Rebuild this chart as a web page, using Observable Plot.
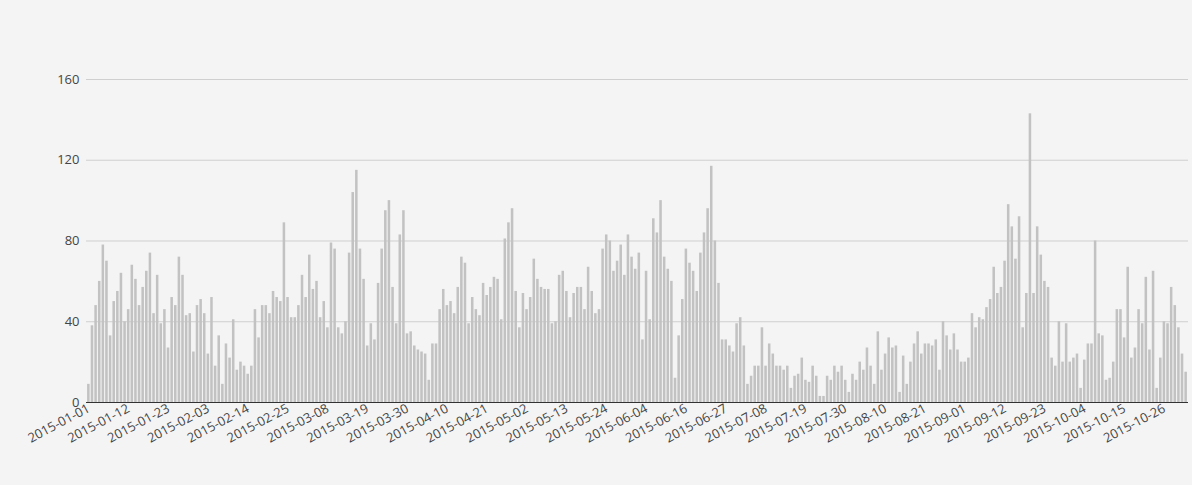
<!DOCTYPE html>
<html><head><meta charset="utf-8">
<script src="https://cdn.jsdelivr.net/npm/d3@7"></script>
<script src="https://cdn.jsdelivr.net/npm/@observablehq/plot@0.6"></script>
<style>
html,body{margin:0;padding:0;background:#f4f4f4;}
</style></head><body><div id="chart"></div>
<script>
const startDate = "2015-01-01";
const endDate = "2015-11-01";
const missingDate = "2015-06-10";
const values = [
  9,38,48,60,78,70,33,50,55,64,40,46,68,61,48,57,65,74,44,63,39,46,27,52,48,72,63,43,
  44,25,48,51,44,24,52,18,33,9,29,22,41,16,20,18,14,18,46,32,48,48,44,55,52,50,89,
  52,42,42,48,63,52,73,56,60,42,50,37,79,76,37,34,40,74,104,115,76,61,28,39,31,59,76,95,
  100,57,39,83,95,34,35,28,26,25,24,11,29,29,46,56,48,50,44,57,72,69,39,52,46,43,59,
  53,57,62,61,41,81,89,96,55,37,54,46,52,71,61,57,56,56,39,40,63,65,55,42,54,57,57,
  46,67,55,44,46,76,83,80,65,70,78,63,83,72,66,74,31,65,41,91,84,100,72,66,60,12,33,51,
  76,69,65,55,74,84,96,117,80,59,31,31,28,25,39,42,28,9,13,18,18,37,18,29,24,18,18,16,
  18,7,13,14,22,11,10,18,13,3,3,13,11,18,15,18,11,5,14,11,20,16,27,18,9,35,16,
  24,32,27,28,5,23,9,20,29,35,24,29,29,28,31,16,40,33,26,34,26,20,20,22,44,37,42,41,
  47,51,67,54,57,70,98,87,71,92,37,54,143,54,87,73,60,57,22,18,40,20,39,20,22,24,7,21,
  29,29,80,34,33,11,12,20,46,46,32,67,22,27,46,39,62,26,65,7,22,40,39,57,48,37,24,15
];
const tickLabels = [
  "2015-01-01","2015-01-12","2015-01-23","2015-02-03","2015-02-14","2015-02-25",
  "2015-03-08","2015-03-19","2015-03-30","2015-04-10","2015-04-21","2015-05-02",
  "2015-05-13","2015-05-24","2015-06-04","2015-06-16","2015-06-27","2015-07-08",
  "2015-07-19","2015-07-30","2015-08-10","2015-08-21","2015-09-01","2015-09-12",
  "2015-09-23","2015-10-04","2015-10-15","2015-10-26"
];
const yTicks = [0, 40, 80, 120, 160];

const fmt = d3.utcFormat("%Y-%m-%d");
const dates = d3.utcDay.range(new Date(startDate), d3.utcDay.offset(new Date(endDate), 1))
  .map(fmt).filter(d => d !== missingDate);
const data = dates.map((date, i) => ({date, value: values[i]}));

const chart = Plot.plot({
  width: 1192, height: 485,
  marginLeft: 86, marginRight: 4, marginTop: 79, marginBottom: 83,
  style: {background: "#f4f4f4", fontFamily: "'Open Sans', sans-serif", fontSize: "13px", color: "#444"},
  x: {type: "band", domain: dates, padding: 0.3, label: null},
  y: {domain: [0, 160], label: null},
  marks: [
    Plot.gridY(yTicks, {stroke: "#cfcfcf", strokeOpacity: 1}),
    Plot.barY(data, {x: "date", y: "value", fill: "#c2c2c2"}),
    Plot.ruleY([0], {stroke: "#333", strokeWidth: 1.2}),
    Plot.axisY(yTicks, {tickSize: 0, tickPadding: 7, label: null, fontSize: 13}),
    Plot.axisX(tickLabels, {tickSize: 0, tickPadding: 5, tickRotate: -28, label: null, fontSize: 13})
  ]
});
document.getElementById("chart").appendChild(chart);
</script></body></html>
